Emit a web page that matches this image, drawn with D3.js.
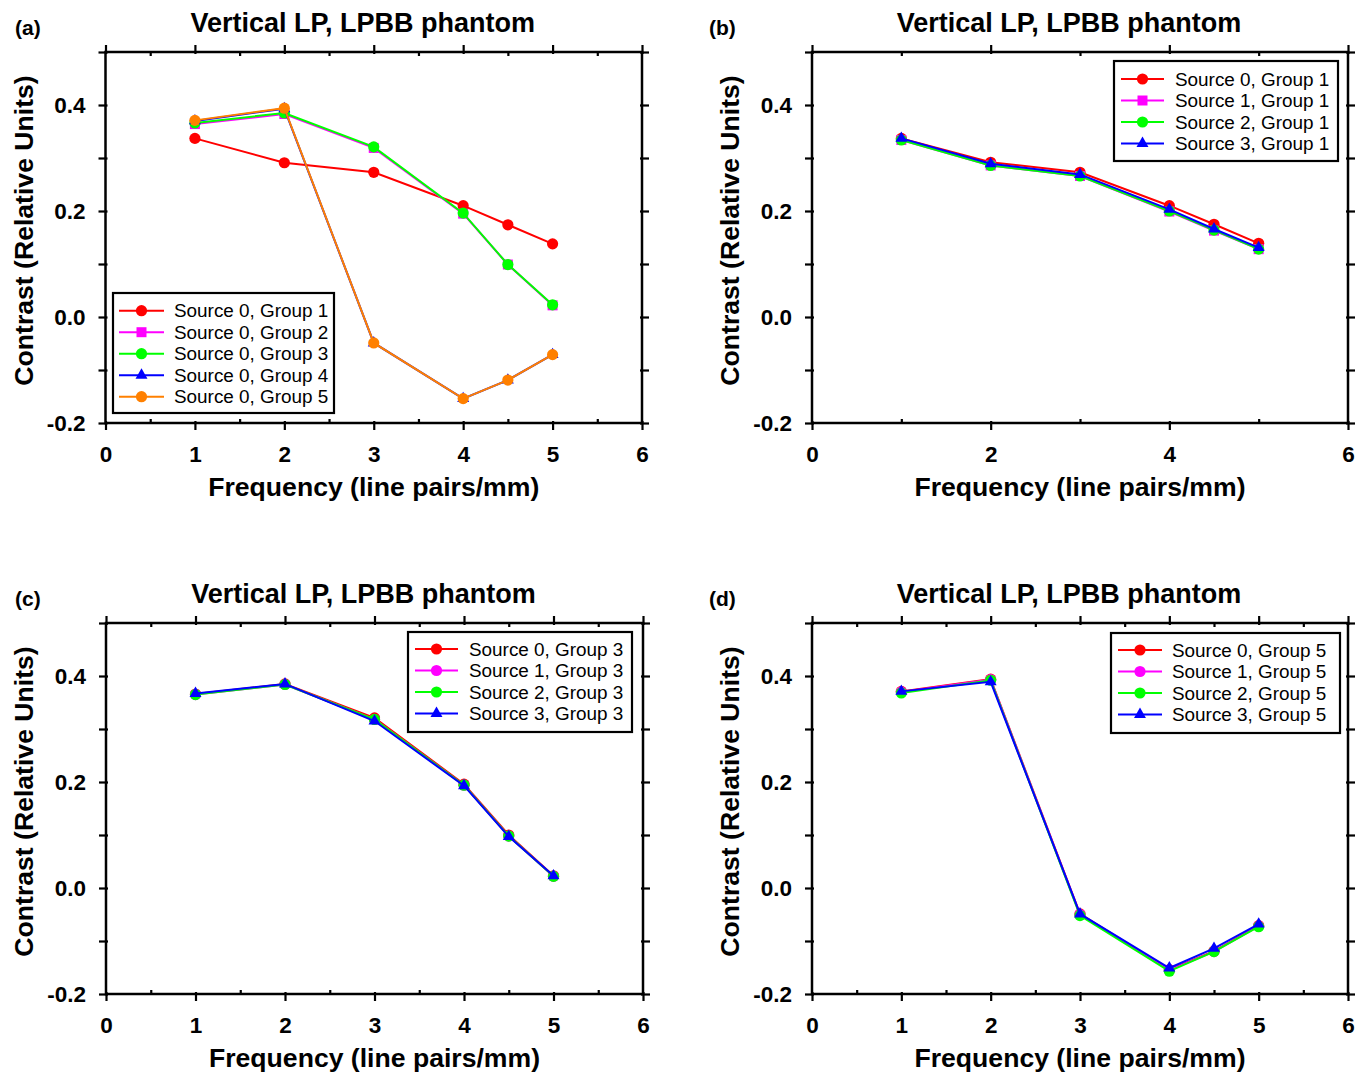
<!DOCTYPE html>
<html>
<head>
<meta charset="utf-8">
<script src="https://cdn.jsdelivr.net/npm/d3@7"></script>
<style>
  html, body { margin: 0; padding: 0; background: #fff; }
  svg { display: block; font-family: "Liberation Sans", Arial, Helvetica, sans-serif; }
</style>
</head>
<body>
<svg id="chart" width="1366" height="1074"></svg>
<script>
// ---------------- data ----------------
const frequencies = [1, 2, 3, 4, 4.5, 5];
const xTickLabels = [0, 1, 2, 3, 4, 5, 6];
const yTickValues = [-0.2, -0.1, 0.0, 0.1, 0.2, 0.3, 0.4, 0.5];
const titleText = "Vertical LP, LPBB phantom";
const xAxisTitle = "Frequency (line pairs/mm)";
const yAxisTitle = "Contrast (Relative Units)";

// panel (a): Source 0, groups 1..5
const a_s0g1 = [0.337, 0.291, 0.273, 0.210, 0.174, 0.138];
const a_s0g2 = [0.364, 0.383, 0.319, 0.195, 0.099, 0.022];
const a_s0g3 = [0.366, 0.385, 0.321, 0.196, 0.099, 0.023];
const a_s0g4 = [0.370, 0.393, -0.049, -0.154, -0.119, -0.071];
const a_s0g5 = [0.371, 0.394, -0.049, -0.154, -0.119, -0.071];
const a_names = ["Source 0, Group 1", "Source 0, Group 2", "Source 0, Group 3", "Source 0, Group 4", "Source 0, Group 5"];

// panel (b): Sources 0..3, group 1
const b_s0g1 = [0.337, 0.292, 0.273, 0.210, 0.175, 0.139];
const b_s1g1 = [0.334, 0.286, 0.266, 0.199, 0.163, 0.128];
const b_s2g1 = [0.334, 0.286, 0.266, 0.200, 0.164, 0.128];
const b_s3g1 = [0.337, 0.289, 0.269, 0.203, 0.166, 0.131];
const b_names = ["Source 0, Group 1", "Source 1, Group 1", "Source 2, Group 1", "Source 3, Group 1"];

// panel (c): Sources 0..3, group 3
const c_s0g3 = [0.366, 0.385, 0.321, 0.196, 0.100, 0.023];
const c_s1g3 = [0.365, 0.384, 0.318, 0.194, 0.098, 0.022];
const c_s2g3 = [0.365, 0.384, 0.318, 0.194, 0.098, 0.022];
const c_s3g3 = [0.367, 0.385, 0.315, 0.193, 0.097, 0.023];
const c_names = ["Source 0, Group 3", "Source 1, Group 3", "Source 2, Group 3", "Source 3, Group 3"];

// panel (d): Sources 0..3, group 5
const d_s0g5 = [0.371, 0.394, -0.049, -0.154, -0.119, -0.071];
const d_s1g5 = [0.370, 0.393, -0.050, -0.155, -0.120, -0.072];
const d_s2g5 = [0.368, 0.392, -0.052, -0.157, -0.120, -0.073];
const d_s3g5 = [0.371, 0.389, -0.049, -0.151, -0.114, -0.068];
const d_names = ["Source 0, Group 5", "Source 1, Group 5", "Source 2, Group 5", "Source 3, Group 5"];

// ---------------- styles ----------------
const RED = "#ff0000", MAG = "#ff00ff", GRN = "#00ff00", BLU = "#0000ff", ORG = "#ff8000";

const panels = [
  { tag: "(a)", tagX: 15, x0: 105.5, y0: 52, w: 536.5, h: 371, major: [0,1,2,3,4,5,6], minor: [0.5,1.5,2.5,3.5,4.5,5.5],
    series: [
      { v: a_s0g1, c: RED, m: "circle" }, { v: a_s0g2, c: MAG, m: "square" },
      { v: a_s0g3, c: GRN, m: "circle" }, { v: a_s0g4, c: BLU, m: "triangle" },
      { v: a_s0g5, c: ORG, m: "circle" } ],
    names: a_names,
    legend: { x: 113, y: 293, w: 221, h: 120, row0: 310.7, line0: 119, line1: 164, tx: 174 } },
  { tag: "(b)", tagX: 709, x0: 812, y0: 52, w: 536, h: 371, major: [0,2,4,6], minor: [1,3,5],
    series: [
      { v: b_s0g1, c: RED, m: "circle" }, { v: b_s1g1, c: MAG, m: "square" },
      { v: b_s2g1, c: GRN, m: "circle" }, { v: b_s3g1, c: BLU, m: "triangle" } ],
    names: b_names,
    legend: { x: 1114, y: 61, w: 224, h: 100, row0: 79, line0: 1121, line1: 1164, tx: 1175 } },
  { tag: "(c)", tagX: 15, x0: 106, y0: 623, w: 537, h: 371, major: [0,1,2,3,4,5,6], minor: [0.5,1.5,2.5,3.5,4.5,5.5],
    series: [
      { v: c_s0g3, c: RED, m: "circle" }, { v: c_s1g3, c: MAG, m: "circle" },
      { v: c_s2g3, c: GRN, m: "circle" }, { v: c_s3g3, c: BLU, m: "triangle" } ],
    names: c_names,
    legend: { x: 408, y: 632, w: 224, h: 100, row0: 649, line0: 415, line1: 458, tx: 469 } },
  { tag: "(d)", tagX: 709, x0: 812, y0: 623, w: 536, h: 371, major: [0,1,2,3,4,5,6], minor: [0.5,1.5,2.5,3.5,4.5,5.5],
    series: [
      { v: d_s0g5, c: RED, m: "circle" }, { v: d_s1g5, c: MAG, m: "circle" },
      { v: d_s2g5, c: GRN, m: "circle" }, { v: d_s3g5, c: BLU, m: "triangle" } ],
    names: d_names,
    legend: { x: 1111, y: 633, w: 229, h: 100, row0: 650, line0: 1118, line1: 1162, tx: 1172 } }
];

const symbolFor = {
  circle: d3.symbol().type(d3.symbolCircle).size(Math.PI * 5.6 * 5.6),
  square: d3.symbol().type(d3.symbolSquare).size(100),
  triangle: d3.symbol().type(d3.symbolTriangle).size(62)
};

const svg = d3.select("#chart");
const ROW = 21.5;

panels.forEach(p => {
  const x = d3.scaleLinear().domain([0, 6]).range([p.x0, p.x0 + p.w]);
  const y = d3.scaleLinear().domain([-0.2, 0.5]).range([p.y0 + p.h, p.y0]);
  const g = svg.append("g");

  const gb = g.append("g").attr("transform", `translate(0,${p.y0 + p.h})`)
    .call(d3.axisBottom(x).tickValues(p.major).tickSize(7).tickPadding(16).tickFormat(d3.format("d")));
  gb.selectAll("line").attr("y1", -2);
  const gbm = g.append("g").attr("transform", `translate(0,${p.y0 + p.h})`)
    .call(d3.axisBottom(x).tickValues(p.minor).tickSize(-4).tickFormat(""));
  const gt = g.append("g").attr("transform", `translate(0,${p.y0})`)
    .call(d3.axisTop(x).tickValues(p.major).tickSize(7).tickFormat(""));
  gt.selectAll("line").attr("y1", 2);
  const gtm = g.append("g").attr("transform", `translate(0,${p.y0})`)
    .call(d3.axisTop(x).tickValues(p.minor).tickSize(-4).tickFormat(""));
  const gl = g.append("g").attr("transform", `translate(${p.x0},0)`)
    .call(d3.axisLeft(y).tickValues(yTickValues).tickSize(7).tickPadding(13)
      .tickFormat((d, i) => (i % 2 === 0 && i < 7) ? d.toFixed(1) : ""));
  gl.selectAll("line").attr("x1", 2);
  const gr = g.append("g").attr("transform", `translate(${p.x0 + p.w},0)`)
    .call(d3.axisRight(y).tickValues(yTickValues).tickSize(7).tickFormat(""));
  gr.selectAll("line").attr("x1", -2);

  [gb, gbm, gt, gtm, gl, gr].forEach(a => {
    a.select(".domain").remove();
    a.selectAll("line").attr("stroke", "#000").attr("stroke-width", 2.2);
    a.selectAll("text").attr("fill", "#000").attr("font-size", "22.5px").attr("font-weight", "bold")
      .attr("font-family", "'Liberation Sans', Arial, sans-serif");
  });

  g.append("rect").attr("x", p.x0).attr("y", p.y0).attr("width", p.w).attr("height", p.h)
    .attr("fill", "none").attr("stroke", "#000").attr("stroke-width", 2.5);

  const line = d3.line().x((d, i) => x(frequencies[i])).y(d => y(d));
  p.series.forEach(s => {
    g.append("path").datum(s.v).attr("d", line).attr("fill", "none")
      .attr("stroke", s.c).attr("stroke-width", 2);
    g.selectAll(null).data(s.v).enter().append("path")
      .attr("d", symbolFor[s.m]())
      .attr("transform", (d, i) => `translate(${x(frequencies[i])},${y(d)})`)
      .attr("fill", s.c);
  });

  const cx = p.x0 + p.w / 2;
  g.append("text").attr("x", cx - 11).attr("y", p.y0 - 20).attr("text-anchor", "middle")
    .attr("font-size", "27px").attr("font-weight", "bold").text(titleText);
  g.append("text").attr("x", cx).attr("y", p.y0 + p.h + 73).attr("text-anchor", "middle")
    .attr("font-size", "26.6px").attr("font-weight", "bold").text(xAxisTitle);
  g.append("text").attr("transform", `translate(${p.x0 - 73},${p.y0 + p.h / 2 - 7}) rotate(-90)`)
    .attr("text-anchor", "middle")
    .attr("font-size", "26.6px").attr("font-weight", "bold").text(yAxisTitle);
  g.append("text").attr("x", p.tagX).attr("y", p.y0 - 17)
    .attr("font-size", "21px").attr("font-weight", "bold").text(p.tag);

  const L = p.legend;
  const lg = g.append("g");
  lg.append("rect").attr("x", L.x).attr("y", L.y).attr("width", L.w).attr("height", L.h)
    .attr("fill", "#fff").attr("stroke", "#000").attr("stroke-width", 2.2);
  p.series.forEach((s, i) => {
    const ry = L.row0 + i * ROW;
    lg.append("line").attr("x1", L.line0).attr("x2", L.line1).attr("y1", ry).attr("y2", ry)
      .attr("stroke", s.c).attr("stroke-width", 2);
    lg.append("path").attr("d", symbolFor[s.m]())
      .attr("transform", `translate(${(L.line0 + L.line1) / 2},${ry})`).attr("fill", s.c);
    lg.append("text").attr("x", L.tx).attr("y", ry + 6.7).attr("font-size", "18.9px")
      .attr("fill", "#000").text(p.names[i]);
  });
});
</script>
</body>
</html>
